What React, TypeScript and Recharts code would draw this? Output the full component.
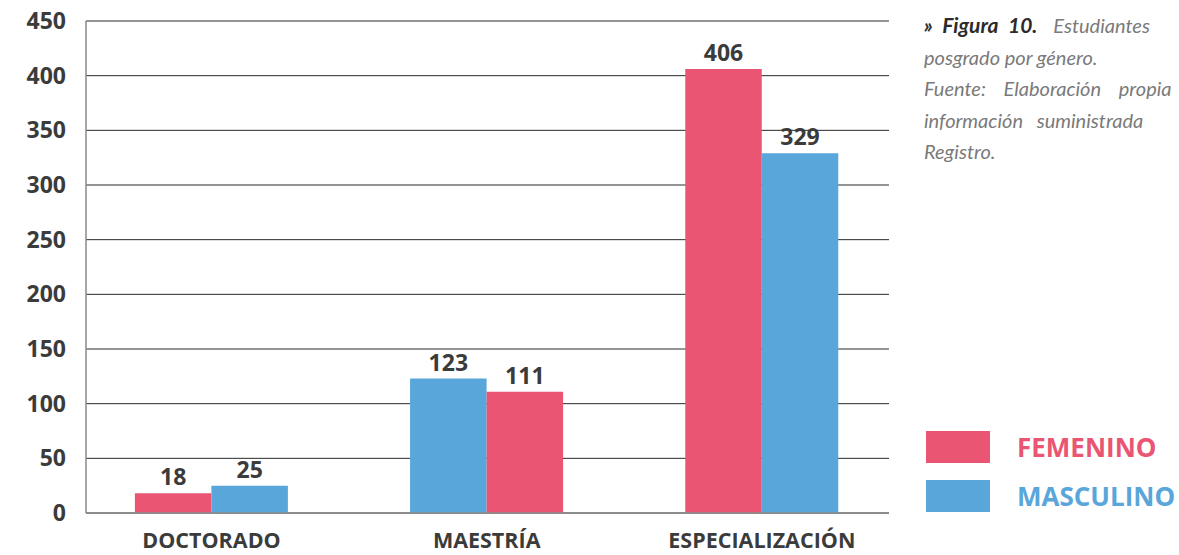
import { BarChart, Bar, XAxis, YAxis, CartesianGrid, Cell, LabelList, Legend } from "recharts";

const categories = ["DOCTORADO", "MAESTRÍA", "ESPECIALIZACIÓN"];
const femenino = [18, 111, 406];
const masculino = [25, 123, 329];
// the source figure draws the Maestría pair with masculino on the left
const masculinoFirst = [false, true, false];
const yTicks = [0, 50, 100, 150, 200, 250, 300, 350, 400, 450];

const PINK = "#EA5573";
const BLUE = "#59A6DB";
const TEXT = "#3b3b3b";
const FONT = "'Open Sans', sans-serif";

const legendItems = [
  { label: "FEMENINO", color: PINK },
  { label: "MASCULINO", color: BLUE },
];

const rows = categories.map((name, i) => {
  const swap = masculinoFirst[i];
  return {
    idx: i,
    name,
    left: swap ? masculino[i] : femenino[i],
    right: swap ? femenino[i] : masculino[i],
    leftColor: swap ? BLUE : PINK,
    rightColor: swap ? PINK : BLUE,
  };
});

const captionLines = [
  { text: "posgrado por género.", spacing: 0 },
  { text: "Fuente: Elaboración propia", spacing: 13 },
  { text: "información suministrada", spacing: 9 },
  { text: "Registro.", spacing: 0 },
];

function LegendBox() {
  return (
    <div style={{ fontFamily: FONT }}>
      {legendItems.map((it) => (
        <div key={it.label} style={{ display: "flex", alignItems: "center", height: 32, marginBottom: 17 }}>
          <div style={{ width: 64, height: 32, background: it.color }} />
          <span style={{ marginLeft: 27, color: it.color, fontSize: 26, fontWeight: 700, lineHeight: "32px" }}>
            {it.label}
          </span>
        </div>
      ))}
    </div>
  );
}

export default function App() {
  return (
    <div style={{ position: "fixed", left: 0, top: 0, width: 1179, height: 555, overflow: "hidden", background: "#fff" }}>
      <BarChart
        width={1179}
        height={555}
        data={rows}
        margin={{ top: 21, right: 290, bottom: 0, left: 0 }}
        barGap={0}
        barSize={76.5}
      >
        <CartesianGrid vertical={false} stroke="#2a2a2a" strokeWidth={1} />
        <XAxis
          type="number"
          dataKey="idx"
          domain={[-0.456, 2.462]}
          ticks={[0, 1, 2]}
          allowDataOverflow
          height={42}
          tickFormatter={(v) => categories[v] ?? ""}
          tickLine={false}
          tickSize={0}
          tickMargin={20}
          axisLine={{ stroke: "#8a8a8a", strokeWidth: 1.5 }}
          tick={{ fill: TEXT, fontSize: 21.5, fontWeight: 700, fontFamily: FONT }}
        />
        <YAxis
          domain={[0, 450]}
          ticks={yTicks}
          width={86}
          tickLine={false}
          tickSize={0}
          tickMargin={20}
          axisLine={{ stroke: "#8a8a8a", strokeWidth: 1.5 }}
          tick={{ fill: TEXT, fontSize: 23, fontWeight: 700, fontFamily: FONT }}
        />
        <Legend
          layout="horizontal"
          verticalAlign="middle"
          align="center"
          content={() => <LegendBox />}
          wrapperStyle={{ left: 926, top: 431, width: 253, height: 90 }}
        />
        <Bar dataKey="left" isAnimationActive={false}>
          {rows.map((r) => (
            <Cell key={r.name} fill={r.leftColor} />
          ))}
          <LabelList dataKey="left" position="top" offset={8} fill={TEXT} fontSize={23} fontWeight={700} fontFamily={FONT} />
        </Bar>
        <Bar dataKey="right" isAnimationActive={false}>
          {rows.map((r) => (
            <Cell key={r.name} fill={r.rightColor} />
          ))}
          <LabelList dataKey="right" position="top" offset={8} fill={TEXT} fontSize={23} fontWeight={700} fontFamily={FONT} />
        </Bar>
      </BarChart>
      <div
        style={{
          position: "absolute",
          left: 924,
          top: 9,
          fontFamily: "Lato, sans-serif",
          fontStyle: "italic",
          fontSize: 20,
          lineHeight: "31.5px",
          color: "#7a7a7a",
          whiteSpace: "nowrap",
        }}
      >
        <div style={{ wordSpacing: 5 }}>
          <span style={{ fontWeight: 700, color: "#2b2b2b", fontSize: 21 }}>» Figura 10.</span>
          <span style={{ marginLeft: 16 }}>Estudiantes</span>
        </div>
        {captionLines.map((l, i) => (
          <div key={i} style={{ wordSpacing: l.spacing }}>
            {l.text}
          </div>
        ))}
      </div>
    </div>
  );
}
